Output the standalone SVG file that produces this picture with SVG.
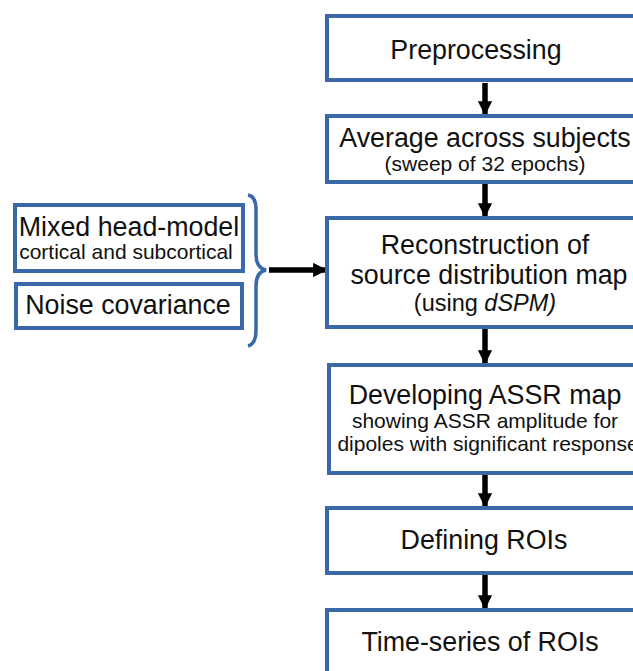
<svg xmlns="http://www.w3.org/2000/svg" width="633" height="671" viewBox="0 0 633 671">
<defs>
<style>
.box{fill:#fff;stroke:#3a68a8;stroke-width:4}
.t{font-family:"Liberation Sans",Arial,sans-serif;fill:#111;text-anchor:middle}
.l{font-size:26.8px}
.s{font-size:21px}
.sh{stroke:#000;stroke-width:5.5;fill:none}
.brace{stroke:#3a68a8;stroke-width:3.5;fill:none}
</style>
<marker id="ah" viewBox="0 0 10 10" refX="9" refY="5" markerWidth="2.6" markerHeight="2.6" orient="auto" markerUnits="strokeWidth">
<path d="M0,0 L10,5 L0,10 Z" fill="#000"/>
</marker>
</defs>
<rect width="633" height="671" fill="#fff"/>
<g id="connectors">
<line class="sh" x1="485" y1="83" x2="485" y2="114" marker-end="url(#ah)"/>
<line class="sh" x1="485" y1="184" x2="485" y2="216" marker-end="url(#ah)"/>
<line class="sh" x1="485" y1="329" x2="485" y2="363" marker-end="url(#ah)"/>
<line class="sh" x1="485" y1="475" x2="485" y2="506" marker-end="url(#ah)"/>
<line class="sh" x1="485" y1="575" x2="485" y2="608" marker-end="url(#ah)"/>
<line class="sh" x1="269" y1="270" x2="326" y2="270" marker-end="url(#ah)"/>
<path class="brace" d="M248,195 Q256,196 256,210 L256,254 Q256,268 266,270 Q256,272 256,286 L256,330 Q256,344 248,346"/>
</g>
<g id="n1"><rect class="box" x="327" y="16" width="320" height="64"/><text class="t l" x="476" y="59">Preprocessing</text></g>
<g id="n2"><rect class="box" x="327" y="116" width="320" height="66"/><text class="t l" x="485" y="147">Average across subjects</text><text class="t s" x="485" y="171">(sweep of 32 epochs)</text></g>
<g id="n3"><rect class="box" x="327" y="218" width="320" height="109"/><text class="t l" x="485" y="254">Reconstruction of</text><text class="t l" x="489" y="284">source distribution map</text><text class="t" font-size="23.5" x="485" y="311">(using <tspan font-style="italic">dSPM)</tspan></text></g>
<g id="n4"><rect class="box" x="329" y="365" width="320" height="108"/><text class="t l" x="485" y="404">Developing ASSR map</text><text class="t s" x="485" y="428">showing ASSR amplitude for</text><text class="t s" x="488" y="451">dipoles with significant response</text></g>
<g id="n5"><rect class="box" x="327" y="508" width="320" height="65"/><text class="t l" x="484" y="549">Defining ROIs</text></g>
<g id="n6"><rect class="box" x="327" y="610" width="320" height="80"/><text class="t l" x="480" y="651">Time-series of ROIs</text></g>
<g id="a"><rect class="box" x="15" y="205" width="228" height="66"/><text class="t l" x="129" y="236">Mixed head-model</text><text class="t s" x="126" y="259">cortical and subcortical</text></g>
<g id="b"><rect class="box" x="16" y="284" width="226" height="44"/><text class="t l" x="128" y="314">Noise covariance</text></g>
</svg>
